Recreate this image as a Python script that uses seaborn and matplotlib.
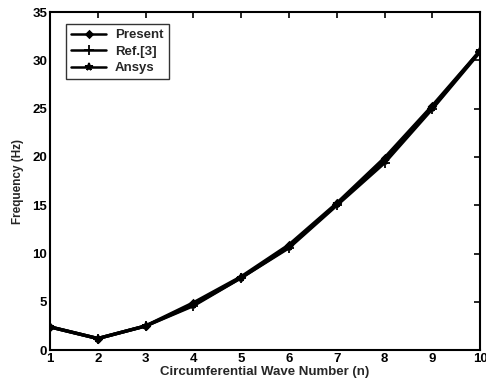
import matplotlib
matplotlib.use("Agg")
import matplotlib.pyplot as plt
import seaborn as sns
import pandas as pd

wave_number = [1, 2, 3, 4, 5, 6, 7, 8, 9, 10]
present = [2.4, 1.2, 2.5, 4.9, 7.6, 10.9, 15.2, 19.9, 25.3, 31.0]
ref3 = [2.4, 1.2, 2.5, 4.6, 7.5, 10.6, 15.0, 19.4, 25.0, 30.9]
ansys = [2.4, 1.2, 2.5, 4.7, 7.5, 10.7, 15.1, 19.6, 25.1, 31.0]
series_names = ["Present", "Ref.[3]", "Ansys"]
y_ticks = [0, 5, 10, 15, 20, 25, 30, 35]

sns.set_theme(style="white")
plt.rcParams["font.family"] = ["Liberation Sans", "DejaVu Sans"]
plt.rcParams["font.weight"] = "bold"

df = pd.DataFrame({
    "n": wave_number * 3,
    "freq": present + ref3 + ansys,
    "series": sum([[s] * len(wave_number) for s in series_names], []),
})

fig = plt.figure(figsize=(4.86, 3.89), dpi=100)
ax = fig.add_axes([0.103, 0.1, 0.885, 0.869])

markers = {"Present": "D", "Ref.[3]": "+", "Ansys": "*"}
sizes = {"Present": 3.5, "Ref.[3]": 7, "Ansys": 5.5}
for name in series_names:
    sub = df[df["series"] == name]
    sns.lineplot(data=sub, x="n", y="freq", ax=ax, color="black", linewidth=2.4,
                 marker=markers[name], markersize=sizes[name], markeredgewidth=1.3,
                 markeredgecolor="black", markerfacecolor="black", label=name)

ax.set_xlim(1, 10)
ax.set_ylim(0, 35)
ax.set_xticks(wave_number)
ax.set_yticks(y_ticks)
ax.tick_params(direction="in", length=4, width=1.2, top=True, right=True,
               labelsize=9.5, pad=2, colors="black")
for lbl in ax.get_xticklabels() + ax.get_yticklabels():
    lbl.set_fontweight("bold")
for sp in ax.spines.values():
    sp.set_linewidth(1.5)
    sp.set_color("black")

ax.set_xlabel("Circumferential Wave Number (n)", fontsize=9.5, fontweight="bold", labelpad=1)
ax.set_ylabel("Frequency (Hz)", fontsize=8.5, fontweight="bold", labelpad=6)

leg = ax.legend(loc="upper left", bbox_to_anchor=(0.022, 0.985), frameon=True,
                fancybox=False, edgecolor="black", fontsize=9.5, handlelength=2.6,
                borderpad=0.4, labelspacing=0.32, handletextpad=0.7)
leg.get_frame().set_linewidth(1.0)
for line in leg.get_lines():
    line.set_linewidth(1.8)
for t in leg.get_texts():
    t.set_fontweight("bold")

fig.savefig("out.png", dpi=100, facecolor="white")
